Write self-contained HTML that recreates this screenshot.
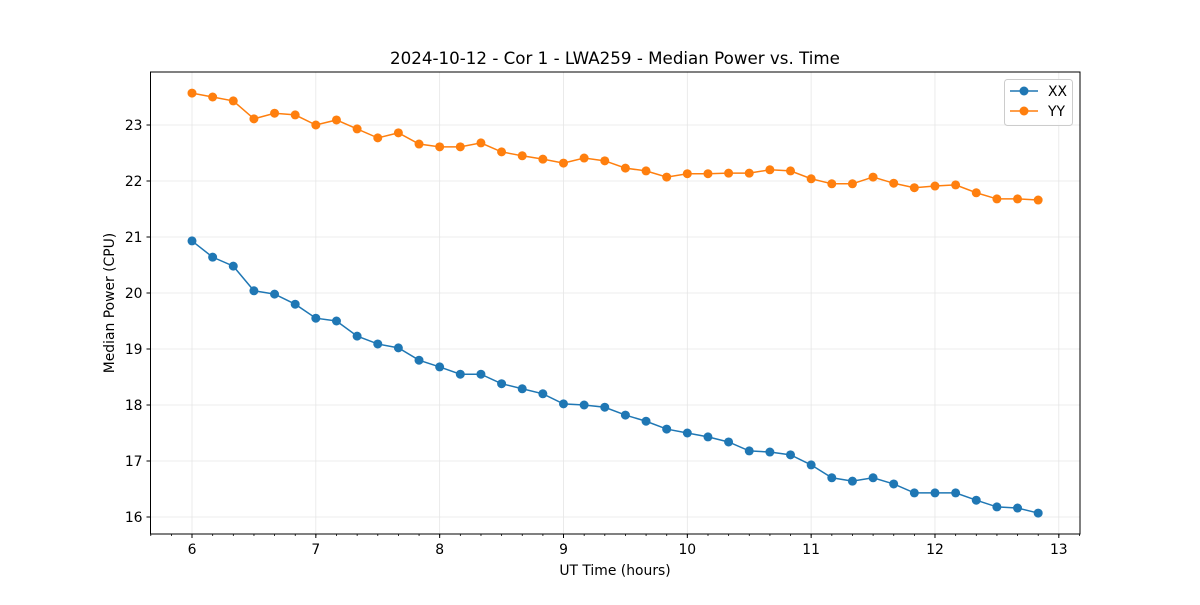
<!DOCTYPE html>
<html><head><meta charset="utf-8"><style>
body{margin:0;background:#fff;font-family:"Liberation Sans","DejaVu Sans",sans-serif}
svg text{font-family:"DejaVu Sans","Liberation Sans",sans-serif}
</style></head><body>
<svg id="c" width="1200" height="600"></svg>
<script>
const xxValues=[20.93,20.64,20.48,20.04,19.98,19.80,19.55,19.50,19.23,19.09,19.02,18.80,18.68,18.55,18.55,18.38,18.29,18.20,18.02,18.00,17.96,17.82,17.71,17.57,17.50,17.43,17.34,17.18,17.16,17.11,16.93,16.70,16.64,16.70,16.59,16.43,16.43,16.43,16.30,16.18,16.16,16.07];
const yyValues=[23.57,23.50,23.43,23.11,23.21,23.18,23.00,23.09,22.93,22.77,22.86,22.66,22.61,22.61,22.68,22.52,22.45,22.39,22.32,22.41,22.36,22.23,22.18,22.07,22.13,22.13,22.14,22.14,22.20,22.18,22.04,21.95,21.95,22.07,21.96,21.88,21.91,21.93,21.79,21.68,21.68,21.66];
const times=xxValues.map((_,i)=>6+i/6);
const xTicks=[6,7,8,9,10,11,12,13];
const yTicks=[16,17,18,19,20,21,22,23];
const NS="http://www.w3.org/2000/svg",svg=document.getElementById('c');
const L=150.5,R=1080,T=72,B=534;
const xs=v=>192+(v-6)*123.83;
const ys=v=>517-(v-16)*56;
function el(t,a,p){const e=document.createElementNS(NS,t);for(const k in a)e.setAttribute(k,a[k]);(p||svg).appendChild(e);return e;}
xTicks.forEach(t=>{const g=el('line',{x1:xs(t),x2:xs(t),y1:T,y2:B,stroke:'#e6e6e6','stroke-width':0.8});

});
yTicks.forEach(t=>{const g=el('line',{x1:L,x2:R,y1:ys(t),y2:ys(t),stroke:'#e6e6e6','stroke-width':0.8});

});
function series(vals,color,name){
 const g=el('g',{});
 
 
 el('polyline',{points:vals.map((v,i)=>xs(times[i])+','+ys(v)).join(' '),fill:'none',stroke:color,'stroke-width':1.5},g);
 vals.forEach((v,i)=>{const c=el('circle',{cx:xs(times[i]),cy:ys(v),r:4.5,fill:color},g);
 
 });
}
series(xxValues,'#1f77b4','series-xx');
series(yyValues,'#ff7f0e','series-yy');
const ax=el('rect',{x:L,y:T,width:R-L,height:B-T,fill:'none',stroke:'#000','stroke-width':1});


for(let m=5.667;m<=13.17;m+=1/6){el('line',{x1:xs(m),x2:xs(m),y1:B,y2:B+2,stroke:'#000','stroke-width':0.8});}
xTicks.forEach(t=>{el('line',{x1:xs(t),x2:xs(t),y1:B,y2:B+4,stroke:'#000'});
const tx=el('text',{x:xs(t),y:B+20,'text-anchor':'middle','font-size':13.9});tx.textContent=t;

});
yTicks.forEach(t=>{el('line',{x1:L-4,x2:L,y1:ys(t),y2:ys(t),stroke:'#000'});
const tx=el('text',{x:L-8,y:ys(t)+5,'text-anchor':'end','font-size':13.9});tx.textContent=t;

});
</script>
<svg width="1200" height="600" style="position:absolute;left:0;top:0">
<text x="615" y="64" text-anchor="middle" font-size="16.7">2024-10-12 - Cor 1 - LWA259 - Median Power vs. Time</text>
<text x="615" y="575" text-anchor="middle" font-size="13.9">UT Time (hours)</text>
<text x="114" y="303" text-anchor="middle" font-size="13.9" transform="rotate(-90 114 303)">Median Power (CPU)</text>
<g>
<rect x="1004.5" y="79.5" width="68" height="46" rx="3" fill="#fff" fill-opacity="0.8" stroke="#ccc"/>
<g><line x1="1010" x2="1038" y1="91" y2="91" stroke="#1f77b4" stroke-width="1.5"/><circle cx="1024" cy="91" r="4.5" fill="#1f77b4"/><text x="1048" y="96" font-size="13.9">XX</text></g>
<g><line x1="1010" x2="1038" y1="111" y2="111" stroke="#ff7f0e" stroke-width="1.5"/><circle cx="1024" cy="111" r="4.5" fill="#ff7f0e"/><text x="1048" y="116" font-size="13.9">YY</text></g>
</g>
</svg>
</body></html>
